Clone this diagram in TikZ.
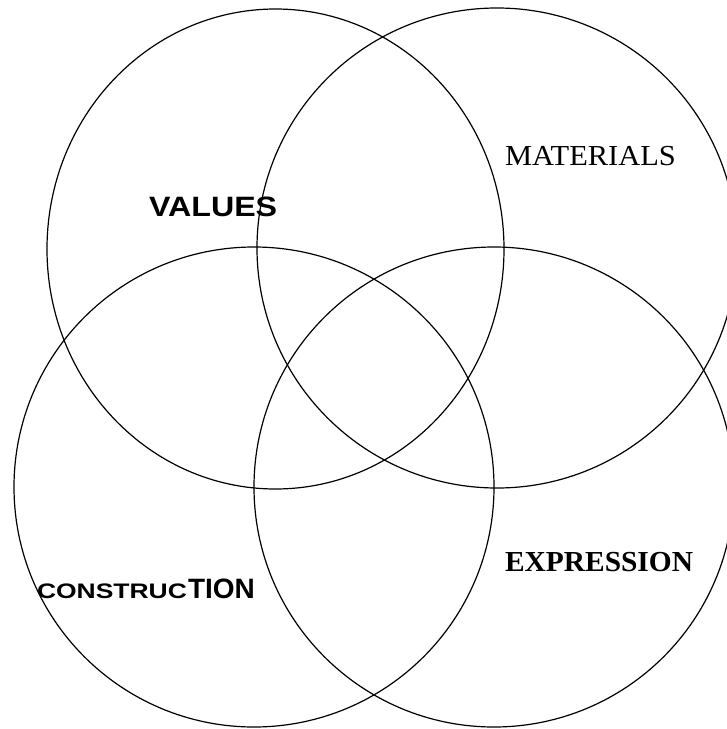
\documentclass[tikz,border=0pt]{standalone}
\usepackage{fontspec}
\setmainfont{Liberation Serif}
\newfontfamily\arialfont{Liberation Sans}
\begin{document}
\begin{tikzpicture}[x=1pt,y=-1pt,
  ring/.style={draw=black,line width=1.2pt},
  lbl/.style={anchor=base west,inner sep=0pt,outer sep=0pt}]
\useasboundingbox (0,0) rectangle (727,729);
\clip (0,0) rectangle (727,729);
% circles
\draw[ring] (275.5,249) ellipse [x radius=228.5pt, y radius=240pt];
\draw[ring] (497,248) ellipse [x radius=240pt, y radius=240pt];
\draw[ring] (254,487) ellipse [x radius=240pt, y radius=240pt];
\draw[ring] (494,487) ellipse [x radius=240pt, y radius=240pt];
% labels
\node[lbl] (values) at (149,216) {\scalebox{1.15}[1]{\arialfont\bfseries\fontsize{28}{30}\selectfont VALUES}};
\node[lbl] (materials) at (505,165) {\scalebox{1.05}[1]{\fontsize{29}{31}\selectfont MATERIALS}};
\node[lbl] (expression) at (505,571) {\scalebox{1.015}[1]{\fontsize{29}{31}\selectfont\bfseries EXPRESSION}};
\node[lbl] (construc) at (37,598) {\scalebox{1.26}[1]{\arialfont\bfseries\fontsize{21}{23}\selectfont CONSTRUC}};
\node[lbl] (tion) at (188,598) {\arialfont\bfseries\fontsize{28}{30}\selectfont TION};
\end{tikzpicture}
\end{document}
